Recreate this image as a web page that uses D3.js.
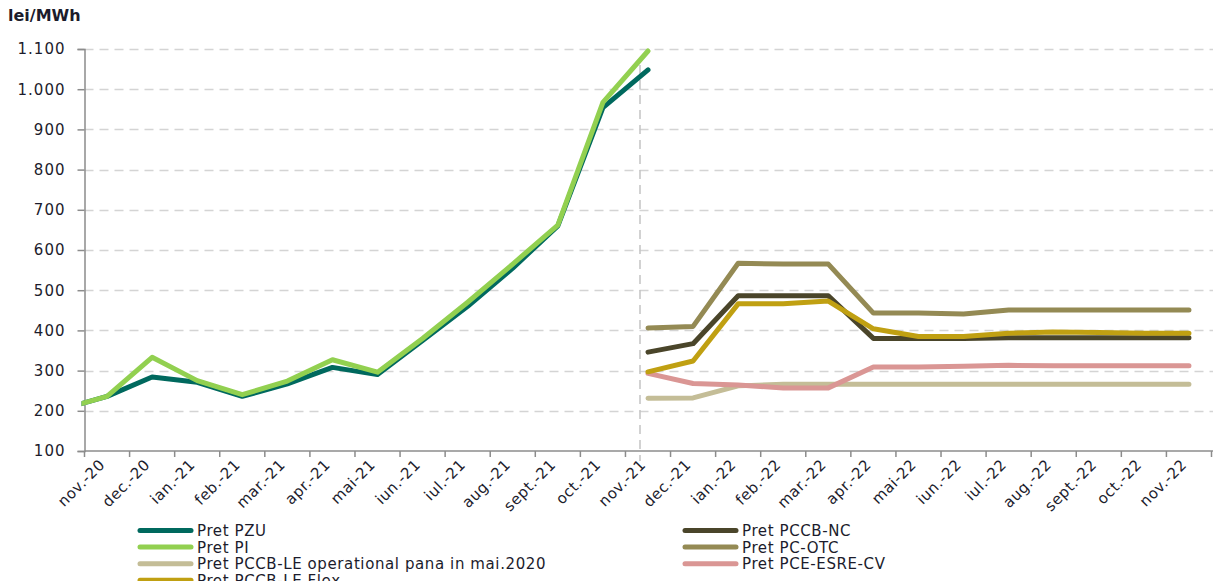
<!DOCTYPE html>
<html>
<head>
<meta charset="utf-8">
<script src="https://cdn.jsdelivr.net/npm/d3@7/dist/d3.min.js"></script>
<style>
  html, body { margin: 0; padding: 0; background: #fff; }
  svg { display: block; font-family: "DejaVu Sans", Verdana, sans-serif; }
</style>
</head>
<body>
<svg id="chart" width="1213" height="581"></svg>
<script>
// Months on the category axis (oct.-20 only feeds the line entering the plot)
const months = ["nov.-20","dec.-20","ian.-21","feb.-21","mar.-21","apr.-21","mai-21","iun.-21",
  "iul.-21","aug.-21","sept.-21","oct.-21","nov.-21","dec.-21","ian.-22","feb.-22","mar.-22",
  "apr.-22","mai-22","iun.-22","iul.-22","aug.-22","sept.-22","oct.-22","nov.-22"];
const prevMonth = "oct.-20";

// Realised prices, oct.-20 .. nov.-21 (lei/MWh)
const pretPZU = [204, 236, 284, 271, 236, 267, 308, 290, 375, 460, 555, 660, 954, 1048];
const pretPI  = [204, 236, 333, 275, 240, 274, 327, 296, 380, 470, 565, 662, 967, 1095];

// Contract prices, nov.-21 .. nov.-22 (lei/MWh)
const pretPCCBNC   = [346, 367, 486, 486, 486, 380, 380, 380, 382, 382, 382, 382, 382];
const pretPCOTC    = [406, 410, 567, 565, 565, 443, 443, 441, 451, 451, 451, 451, 451];
const pretPCCBLEop = [231, 232, 262, 266, 266, 266, 266, 266, 266, 266, 266, 266, 266];
const pretPCEESRE  = [293, 268, 264, 257, 257, 309, 309, 311, 313, 312, 312, 312, 312];
const pretPCCBFlex = [297, 324, 466, 466, 473, 404, 385, 385, 393, 396, 395, 393, 393];

const yTicks = [100, 200, 300, 400, 500, 600, 700, 800, 900, 1000, 1100];

const allMonths = [prevMonth].concat(months);
const splitIndex = 13; // position of nov.-21 in allMonths

function leftPart(vals)  { return allMonths.map((m, i) => i < vals.length ? vals[i] : null); }
function rightPart(vals) { return allMonths.map((m, i) => i >= splitIndex ? vals[i - splitIndex] : null); }

// Draw order follows the legend's row order
const series = [
  { name: "Pret PZU",        color: "#00695E", values: leftPart(pretPZU) },
  { name: "Pret PCCB-NC",    color: "#4A452A", values: rightPart(pretPCCBNC) },
  { name: "Pret PI",         color: "#92D050", values: leftPart(pretPI) },
  { name: "Pret PC-OTC",     color: "#948A54", values: rightPart(pretPCOTC) },
  { name: "Pret PCCB-LE operational pana in mai.2020", color: "#C4BD97", values: rightPart(pretPCCBLEop) },
  { name: "Pret PCE-ESRE-CV", color: "#DA9694", values: rightPart(pretPCEESRE) },
  { name: "Pret PCCB-LE Flex", color: "#C0A012", values: rightPart(pretPCCBFlex) }
];

const svg = d3.select("#chart");
const plot = { left: 84.5, right: 1211.5, top: 49, bottom: 451 };

const x = d3.scaleBand().domain(months).range([plot.left, plot.right]).padding(0);
const bw = x.bandwidth();
const cx = m => (m === prevMonth ? x(months[0]) - bw : x(m)) + bw / 2;
const y = d3.scaleLinear().domain([100, 1100]).range([plot.bottom, plot.top]);

const fmt = d3.formatLocale({ decimal: ",", thousands: ".", grouping: [3], currency: ["", ""] }).format(",");

svg.append("defs").append("clipPath").attr("id", "plotclip")
  .append("rect").attr("x", plot.left - 3).attr("y", 0).attr("width", 1213).attr("height", 581);

// Horizontal gridlines
svg.append("g")
  .selectAll("line")
  .data(yTicks.filter(t => t > 100))
  .join("line")
  .attr("x1", plot.left).attr("x2", 1213)
  .attr("y1", d => Math.round(y(d)) + 0.5).attr("y2", d => Math.round(y(d)) + 0.5)
  .attr("stroke", "#d4d4d4").attr("stroke-width", 1.5)
  .attr("stroke-dasharray", "9,6");

// Vertical separator at nov.-21
svg.append("line")
  .attr("x1", 640).attr("x2", 640)
  .attr("y1", y(1060)).attr("y2", plot.bottom + 10)
  .attr("stroke", "#c4c4c4").attr("stroke-width", 1.5)
  .attr("stroke-dasharray", "9,6");

// Y axis
const yAxis = svg.append("g")
  .attr("transform", `translate(${plot.left},0)`)
  .call(d3.axisLeft(y).tickValues(yTicks).tickFormat(fmt).tickSize(7).tickPadding(12));
yAxis.select(".domain").attr("stroke", "#8c8c8c").attr("stroke-width", 1.5);
yAxis.selectAll(".tick line").attr("stroke", "#8c8c8c").attr("stroke-width", 1.5);
yAxis.selectAll(".tick text").attr("fill", "#1c1c2c").style("font-size", "15px")
  .style("letter-spacing", "1px")
  .style("font-family", "'DejaVu Sans', Verdana, sans-serif");

// X axis: ticks at category boundaries
const xAxis = svg.append("g").attr("transform", `translate(0,${plot.bottom})`);
xAxis.append("line")
  .attr("x1", plot.left).attr("x2", 1213).attr("y1", 0).attr("y2", 0)
  .attr("stroke", "#8c8c8c").attr("stroke-width", 1.5);
xAxis.selectAll("line.tk")
  .data(d3.range(months.length + 1))
  .join("line").attr("class", "tk")
  .attr("x1", i => plot.left + i * bw).attr("x2", i => plot.left + i * bw)
  .attr("y1", 0).attr("y2", 6)
  .attr("stroke", "#8c8c8c").attr("stroke-width", 1.5);
xAxis.selectAll("text")
  .data(months)
  .join("text")
  .attr("transform", m => `translate(${cx(m) - 5},${11}) rotate(-45)`)
  .attr("text-anchor", "end")
  .attr("dy", "0.35em")
  .attr("fill", "#1c1c2c")
  .style("font-size", "15px")
  .style("letter-spacing", "0.5px")
  .text(m => m);

// Unit label
svg.append("text")
  .attr("x", 8).attr("y", 21)
  .attr("font-weight", "bold")
  .attr("fill", "#1c1c2c")
  .style("font-size", "16px")
  .text("lei/MWh");

// Series lines
const line = d3.line()
  .defined(d => d.v != null)
  .x(d => cx(d.m))
  .y(d => y(d.v));

svg.append("g")
  .attr("clip-path", "url(#plotclip)")
  .selectAll("path")
  .data(series)
  .join("path")
  .attr("d", s => line(allMonths.map((m, i) => ({ m, v: s.values[i] }))))
  .attr("fill", "none")
  .attr("stroke", s => s.color)
  .attr("stroke-width", 5)
  .attr("stroke-linejoin", "round")
  .attr("stroke-linecap", "round");

// Legend: two columns, filled row by row
const legend = svg.append("g");
const colX = [138, 683];
const rowY0 = 530.5, rowH = 16.6;
series.forEach((s, i) => {
  const col = i % 2, row = Math.floor(i / 2);
  const g = legend.append("g").attr("transform", `translate(${colX[col]},${rowY0 + row * rowH})`);
  g.append("line")
    .attr("x1", 2).attr("x2", 53).attr("y1", 0).attr("y2", 0)
    .attr("stroke", s.color).attr("stroke-width", 5).attr("stroke-linecap", "round");
  g.append("text")
    .attr("x", 59).attr("y", 0).attr("dy", "0.36em")
    .attr("fill", "#1c1c2c")
    .style("font-size", "15px")
    .style("letter-spacing", "0.6px")
    .text(s.name);
});
</script>
</body>
</html>
